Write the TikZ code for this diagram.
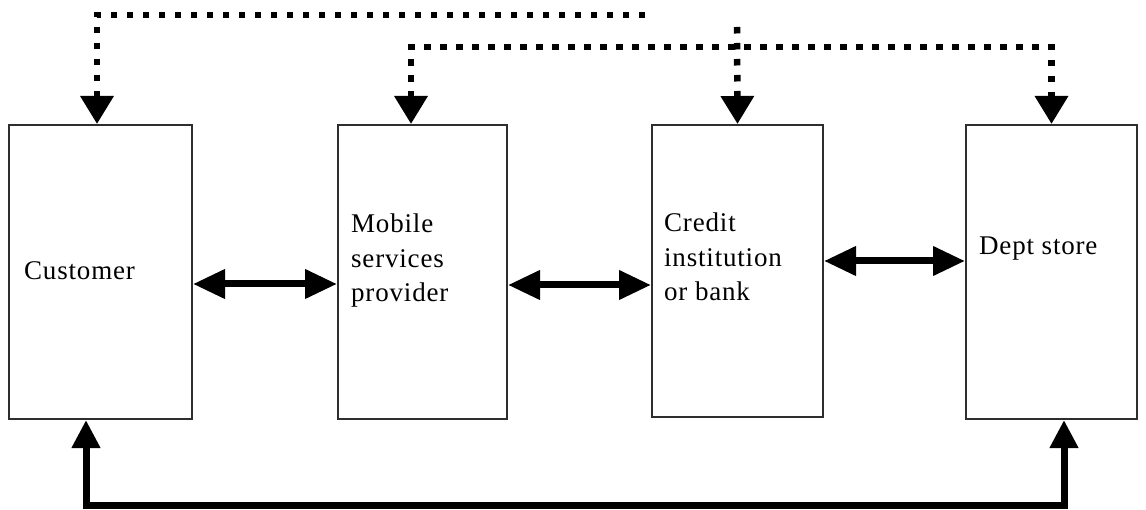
\documentclass[tikz,border=0pt]{standalone}
\usepackage{fontspec}
\setmainfont[LetterSpace=3]{Liberation Serif}
\usetikzlibrary{arrows.meta}
\begin{document}
\begin{tikzpicture}[x=1pt,y=-1pt,
  box/.style={draw=black!82,line width=2pt,inner sep=0pt,minimum height=294pt},
  lbl/.style={inner sep=0pt,anchor=base west,align=left,
    font=\fontsize{27}{34.5}\selectfont},
  dotline/.style={line width=6.5pt,dash pattern=on 6.5pt off 9.5pt,
    -{Triangle[width=32pt,length=28pt]}},
  dotboth/.style={line width=6.5pt,dash pattern=on 6.5pt off 9.5pt,
    {Triangle[width=32pt,length=28pt]}-{Triangle[width=32pt,length=28pt]}},
  twoway/.style={line width=7pt,
    {Triangle[width=28pt,length=32pt]}-{Triangle[width=28pt,length=32pt]}},
  solidbus/.style={line width=7pt,line join=miter,
    {Triangle[width=27pt,length=28pt]}-{Triangle[width=27pt,length=28pt]}}]
\useasboundingbox (0,0) rectangle (1146,510);

% boxes
\node[box,minimum width=183pt] (cust) at (100.5,272) {};
\node[box,minimum width=169pt] (mob)  at (422.5,272) {};
\node[box,minimum width=171pt,minimum height=292pt] (cred) at (737.5,271) {};
\node[box,minimum width=171pt] (dept) at (1051.5,272) {};

% labels (base anchor = baseline of last line)
\node[lbl] (tcust) at (24,280) {Customer};
\node[lbl] (tmob)  at (351,302) {Mobile\\services\\provider};
\node[lbl] (tcred) at (664,301) {Credit\\institution\\or bank};
\node[lbl] (tdept) at (979,255) {Dept store};

% top dotted connectors
\coordinate (hubL) at (645,15);
\coordinate (hubD) at (737,27);
\draw[dotline] (hubL) -| ([xshift=-3.5pt]cust.north);
\draw[dotline] (hubD) -- (cred.north);
\draw[dotboth] ([xshift=-11.5pt]mob.north) |- ([yshift=77pt]dept.north) -- (dept.north);

% horizontal two-way arrows
\draw[twoway] ([yshift=-12pt]cust.east) -- ([yshift=-12pt]mob.west);
\draw[twoway] ([yshift=-13pt]mob.east) -- ([yshift=-14pt]cred.west);
\draw[twoway] ([yshift=10pt]cred.east) -- ([yshift=11pt]dept.west);

% bottom solid connector
\draw[solidbus] ([xshift=-14.5pt]cust.south) |- ([xshift=12.5pt,yshift=-85pt]dept.south) -- ([xshift=12.5pt]dept.south);
\end{tikzpicture}
\end{document}
